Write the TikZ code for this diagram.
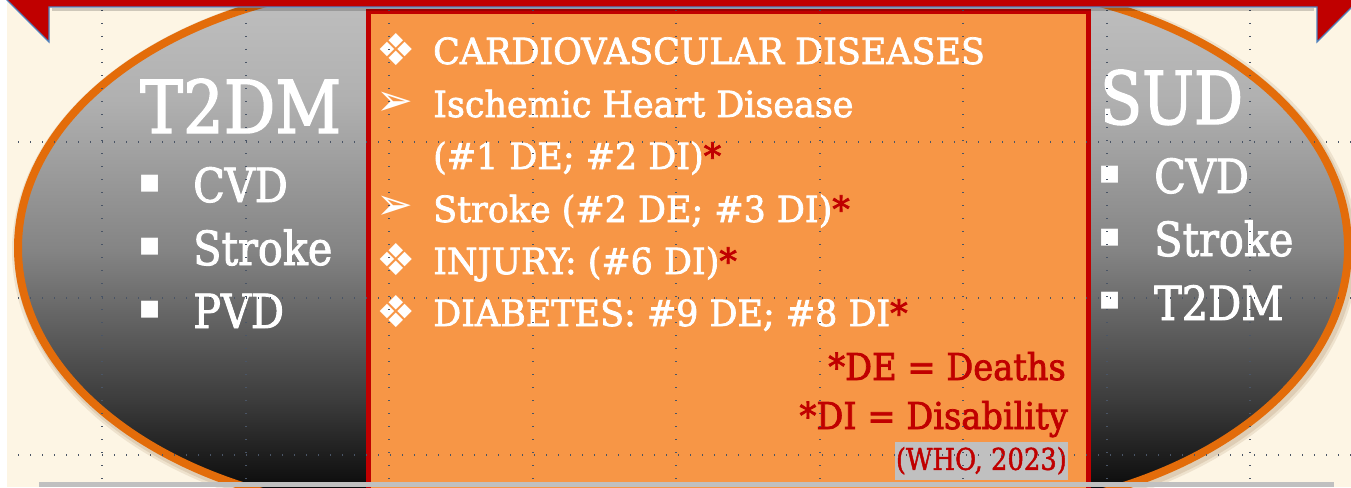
\documentclass[tikz,border=0pt]{standalone}
\usepackage{fontspec}
\setmainfont{DejaVu Serif}[FakeStretch=0.88, FakeBold=2]
\newfontfamily\sudfont{DejaVu Serif}[FakeStretch=0.84, FakeBold=2]
\newfontfamily\ctrfont{DejaVu Serif}[FakeStretch=0.97, FakeBold=2]
\newfontfamily\redfont{DejaVu Serif}[FakeStretch=0.91, FakeBold=2]
\newfontfamily\whofont{DejaVu Serif}[FakeStretch=0.86, FakeBold=1.5]
\newfontfamily\symfont{DejaVu Sans}
\definecolor{creamc}{HTML}{FDF5E4}
\definecolor{orangef}{HTML}{F79646}
\definecolor{redc}{HTML}{C00000}
\definecolor{ellorange}{HTML}{E36C0A}
\definecolor{bluec}{HTML}{4F81BD}
\definecolor{gridc}{HTML}{4A5566}
\definecolor{barc}{HTML}{C0C0C0}
\definecolor{gA}{RGB}{12,12,12}
\definecolor{gB}{RGB}{60,60,60}
\definecolor{gC}{RGB}{132,132,132}
\definecolor{gD}{RGB}{176,176,176}
\definecolor{gE}{RGB}{190,190,190}
\pgfdeclareverticalshading{ellshade}{100bp}{color(0bp)=(gA); color(25bp)=(gA); color(33.9bp)=(gB); color(49.3bp)=(gC); color(64.7bp)=(gD); color(75bp)=(gE); color(100bp)=(gE)}
\newcommand{\ellp}{(414,-16) -- (952,-16) arc[start angle=-90, end angle=90, x radius=396, y radius=264] -- (414,512) arc[start angle=90, end angle=270, x radius=396, y radius=264] -- cycle}
\begin{document}
\begin{tikzpicture}[x=1pt,y=-1pt,
  txt/.style={inner sep=0pt, text=white, anchor=base west},
  redtxt/.style={inner sep=0pt, text=redc, anchor=base east, font=\redfont\fontsize{37}{37}\selectfont},
  big/.style={font=\fontsize{73}{73}\selectfont},
  mid/.style={font=\fontsize{47}{47}\selectfont},
  ctr/.style={font=\ctrfont\fontsize{36}{36}\selectfont},
  sqbul/.style={inner sep=0pt, text=white, font=\symfont\fontsize{34}{34}\selectfont},
  cbul/.style={inner sep=0pt, text=white, font=\symfont\fontsize{44}{44}\selectfont},
  gridv/.style={draw=gridc, line width=1.4pt, dash pattern=on 1.4pt off 11.6pt},
  gridh/.style={draw=gridc, line width=1.4pt, dash pattern=on 1.4pt off 10.6pt}]
\useasboundingbox (0,0) rectangle (1351,487);
\clip (0,0) rectangle (1351,487);
\fill[white] (0,0) rectangle (1351,487);
\fill[creamc] (7,0) rectangle (1351,487);
% soft shadow of the oval
\begin{scope}[shift={(2,3)}]
\draw[brown!70!black, opacity=0.12, line width=16] \ellp;
\draw[brown!70!black, opacity=0.15, line width=11] \ellp;
\end{scope}
\begin{scope}
\clip \ellp;
\shade[shading=ellshade] (0,0) rectangle (1351,487);
\end{scope}
\draw[ellorange, line width=8] \ellp;
% central box
\node[draw=redc, line width=5pt, fill=orangef, inner sep=0pt, minimum width=720pt, minimum height=500pt, anchor=north west] (box) at (365.5,9) {};
% left column
\node[txt, big] (t2dm) at (140,133) {T2DM};
\node[sqbul] (lb1) at (150,184) {▪};
\node[sqbul] (lb2) at (150,247) {▪};
\node[sqbul] (lb3) at (150,310) {▪};
\node[txt, mid] (lcvd) at (193,202) {CVD};
\node[txt, mid] (lstr) at (193,265) {Stroke};
\node[txt, mid] (lpvd) at (193,328) {PVD};
% right column
\node[txt, font=\sudfont\fontsize{73}{73}\selectfont] (sud) at (1100,124) {SUD};
\node[sqbul] (rb1) at (1110,175) {▪};
\node[sqbul] (rb2) at (1110,238) {▪};
\node[sqbul] (rb3) at (1110,301) {▪};
\node[txt, mid] (rcvd) at (1154,193) {CVD};
\node[txt, mid] (rstr) at (1154,256) {Stroke};
\node[txt, mid] (rt2) at (1154,320) {T2DM};
% centre column
\node[cbul] (cb1) at (396,50) {❖};
\node[cbul] (cb2) at (395,104) {➢};
\node[cbul] (cb3) at (395,208) {➢};
\node[cbul] (cb4) at (396,260) {❖};
\node[cbul] (cb5) at (396,312) {❖};
\node[txt, ctr] (c1) at (433,64) {CARDIOVASCULAR DISEASES};
\node[txt, ctr] (c2) at (433,117) {Ischemic Heart Disease};
\node[txt, ctr] (c3) at (433,169) {(\#1 DE; \#2 DI)\textcolor{redc}{*}};
\node[txt, ctr] (c4) at (433,222) {Stroke (\#2 DE; \#3 DI)\textcolor{redc}{*}};
\node[txt, ctr] (c5) at (433,274) {INJURY: (\#6 DI)\textcolor{redc}{*}};
\node[txt, ctr] (c6) at (433,326) {DIABETES: \#9 DE; \#8 DI\textcolor{redc}{*}};
\node[redtxt] (de) at (1066,380) {*DE = Deaths};
\node[redtxt] (di) at (1068,429) {*DI = Disability};
\node[fill=barc, inner xsep=1pt, inner ysep=0pt, minimum height=38pt, text=redc, anchor=south east, font=\whofont\fontsize{30}{30}\selectfont] (who) at (1068,480) {(WHO, 2023)};
% grid
\foreach \gx in {102,246,389,533,676,820,963,1107,1250} \draw[gridv] (\gx,10) -- (\gx,487);
\foreach \gy in {142,298,455} \draw[gridh] (18,\gy) -- (1351,\gy);
% top ribbon
\draw[black, opacity=0.18, line width=3] (52,10) -- (1314,10);
\filldraw[fill=redc, draw=bluec, line width=1.2] (2,-5) -- (49,42) -- (49,7) -- (1317,7) -- (1317,42) -- (1364,-5) -- cycle;
% bottom bar
\fill[barc] (39,482) rectangle (1334,487);
\end{tikzpicture}
\end{document}
